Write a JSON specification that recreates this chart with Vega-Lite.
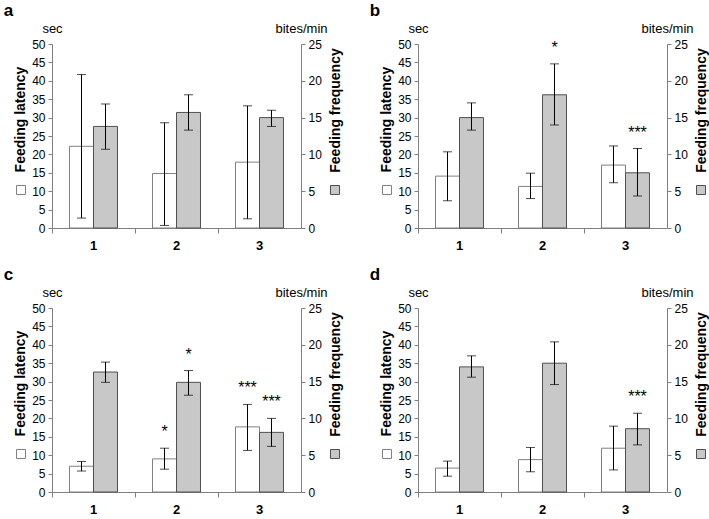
{
  "$schema": "https://vega.github.io/schema/vega-lite/v6.json",
  "padding": {"left": 3, "top": 2, "right": 2, "bottom": 5},
  "background": "white",
  "config": {
    "font": "Liberation Sans",
    "view": {"stroke": null},
    "axis": {"labelFont": "Liberation Sans", "titleFont": "Liberation Sans", "domainColor": "#808080", "tickColor": "#808080", "labelColor": "black", "titleColor": "black", "grid": false, "labelFontSize": 12, "tickSize": 4, "labelPadding": 3},
    "axisLeft": {"tickCount": 10, "titleFontSize": 14, "titleFontWeight": "bold", "titlePadding": 4, "titleY": 75},
    "axisRight": {"tickCount": 5, "titleFontSize": 14, "titleFontWeight": "bold", "titlePadding": 7, "titleAngle": 270, "titleBaseline": "top", "titleY": 66},
    "axisBottom": {"bandPosition": 0, "labelAngle": 0, "labelFontWeight": "bold", "labelFontSize": 13, "labelPadding": 6, "tickSize": 5, "titleFontWeight": "normal", "titleFontSize": 13, "titleX": 0, "titleY": -196, "titleAlign": "center", "titleBaseline": "alphabetic"},
    "axisTop": {"labels": false, "ticks": false, "domain": false, "titleFontWeight": "normal", "titleFontSize": 13, "titleX": 249, "titleY": -12, "titleAlign": "center", "titleBaseline": "alphabetic"},
    "legend": {"title": null, "symbolType": "square", "symbolSize": 81, "symbolStrokeWidth": 1, "labelFontSize": 1, "labelOffset": 0, "padding": 0, "offset": 0, "orient": "none"},
    "title": {"font": "Liberation Sans", "fontSize": 17, "fontWeight": "bold", "anchor": "start", "frame": "bounds", "offset": 2, "dx": -10}
  },
  "spacing": {"row": 14, "column": 26},
  "resolve": {"scale": {"fill": "independent"}, "legend": {"fill": "independent"}},
  "datasets": {
    "d": [
      {"panel": "a", "cat": "1", "series": "lat", "mean": 22.2, "lo": 2.7, "hi": 41.7, "star": null},
      {"panel": "a", "cat": "2", "series": "lat", "mean": 14.8, "lo": 0.7, "hi": 28.6, "star": null},
      {"panel": "a", "cat": "3", "series": "lat", "mean": 17.9, "lo": 2.5, "hi": 33.2, "star": null},
      {"panel": "a", "cat": "1", "series": "freq", "mean": 13.8, "lo": 10.7, "hi": 16.85, "star": null},
      {"panel": "a", "cat": "2", "series": "freq", "mean": 15.7, "lo": 13.3, "hi": 18.1, "star": null},
      {"panel": "a", "cat": "3", "series": "freq", "mean": 15.0, "lo": 13.8, "hi": 16.0, "star": null},
      {"panel": "b", "cat": "1", "series": "lat", "mean": 14.1, "lo": 7.4, "hi": 20.7, "star": null},
      {"panel": "b", "cat": "2", "series": "lat", "mean": 11.3, "lo": 8.0, "hi": 14.9, "star": null},
      {"panel": "b", "cat": "3", "series": "lat", "mean": 17.1, "lo": 12.3, "hi": 22.3, "star": null},
      {"panel": "b", "cat": "1", "series": "freq", "mean": 15.0, "lo": 13.3, "hi": 17.0, "star": null},
      {"panel": "b", "cat": "2", "series": "freq", "mean": 18.1, "lo": 14.0, "hi": 22.3, "star": "*"},
      {"panel": "b", "cat": "3", "series": "freq", "mean": 7.5, "lo": 4.35, "hi": 10.8, "star": "***"},
      {"panel": "c", "cat": "1", "series": "lat", "mean": 7.0, "lo": 5.7, "hi": 8.3, "star": null},
      {"panel": "c", "cat": "2", "series": "lat", "mean": 9.0, "lo": 6.2, "hi": 11.9, "star": "*"},
      {"panel": "c", "cat": "3", "series": "lat", "mean": 17.7, "lo": 11.3, "hi": 23.8, "star": "***"},
      {"panel": "c", "cat": "1", "series": "freq", "mean": 16.3, "lo": 14.9, "hi": 17.65, "star": null},
      {"panel": "c", "cat": "2", "series": "freq", "mean": 14.9, "lo": 13.15, "hi": 16.5, "star": "*"},
      {"panel": "c", "cat": "3", "series": "freq", "mean": 8.1, "lo": 6.2, "hi": 10.0, "star": "***"},
      {"panel": "d", "cat": "1", "series": "lat", "mean": 6.5, "lo": 4.3, "hi": 8.4, "star": null},
      {"panel": "d", "cat": "2", "series": "lat", "mean": 8.8, "lo": 5.5, "hi": 12.1, "star": null},
      {"panel": "d", "cat": "3", "series": "lat", "mean": 11.9, "lo": 6.0, "hi": 17.9, "star": null},
      {"panel": "d", "cat": "1", "series": "freq", "mean": 17.0, "lo": 15.6, "hi": 18.5, "star": null},
      {"panel": "d", "cat": "2", "series": "freq", "mean": 17.5, "lo": 14.6, "hi": 20.4, "star": null},
      {"panel": "d", "cat": "3", "series": "freq", "mean": 8.6, "lo": 6.4, "hi": 10.7, "star": "***"}
    ]
  },
  "columns": 2,
  "concat": [
    {
      "title": "a", "width": 249, "height": 184, "data": {"name": "d"},
      "transform": [{"filter": "datum.panel === 'a'"}],
      "layer": [
        {
          "transform": [{"filter": "datum.series === 'lat'"}],
          "encoding": {
            "x": {"field": "cat", "type": "nominal", "title": "sec", "scale": {"paddingInner": 0, "paddingOuter": 0}, "axis": {"orient": "bottom"}},
            "xOffset": {"field": "series", "type": "nominal", "scale": {"domain": ["lat", "freq"], "paddingInner": 0, "paddingOuter": 0.73}}
          },
          "layer": [
            {"mark": {"type": "bar", "stroke": "#808080", "strokeWidth": 1},
             "encoding": {"y": {"field": "mean", "type": "quantitative", "title": "Feeding latency", "scale": {"domain": [0, 50], "nice": false}, "axis": {"orient": "left"}},
               "fill": {"field": "series", "type": "nominal", "scale": {"domain": ["lat"], "range": ["white"]}, "legend": {"legendX": -36, "legendY": 141, "symbolStrokeColor": "#808080", "labelExpr": "''"}}}},
            {"mark": {"type": "rule", "color": "black", "strokeWidth": 1},
             "encoding": {"y": {"field": "lo", "type": "quantitative", "title": "Feeding latency", "axis": {"orient": "left"}}, "y2": {"field": "hi"}}},
            {"mark": {"type": "tick", "color": "black", "thickness": 1, "size": 9},
             "encoding": {"y": {"field": "lo", "type": "quantitative", "title": "Feeding latency", "axis": {"orient": "left"}}}},
            {"mark": {"type": "tick", "color": "black", "thickness": 1, "size": 9},
             "encoding": {"y": {"field": "hi", "type": "quantitative", "title": "Feeding latency", "axis": {"orient": "left"}}}},
            {"transform": [{"filter": "datum.star"}],
             "mark": {"type": "text", "dy": -11, "fontSize": 16, "color": "black", "baseline": "alphabetic"},
             "encoding": {"y": {"field": "hi", "type": "quantitative", "title": "Feeding latency", "axis": {"orient": "left"}}, "text": {"field": "star"}}}
          ]
        },
        {
          "transform": [{"filter": "datum.series === 'freq'"}],
          "encoding": {
            "x": {"field": "cat", "type": "nominal", "title": "bites/min", "scale": {"paddingInner": 0, "paddingOuter": 0}, "axis": {"orient": "top"}},
            "xOffset": {"field": "series", "type": "nominal", "scale": {"domain": ["lat", "freq"], "paddingInner": 0, "paddingOuter": 0.73}}
          },
          "layer": [
            {"mark": {"type": "bar", "stroke": "#505050", "strokeWidth": 1},
             "encoding": {"y": {"field": "mean", "type": "quantitative", "title": "Feeding frequency", "scale": {"domain": [0, 25], "nice": false}, "axis": {"orient": "right"}},
               "fill": {"field": "series", "type": "nominal", "scale": {"domain": ["freq"], "range": ["#c8c8c8"]}, "legend": {"legendX": 278, "legendY": 141, "symbolStrokeColor": "#505050", "labelExpr": "''"}}}},
            {"mark": {"type": "rule", "color": "black", "strokeWidth": 1},
             "encoding": {"y": {"field": "lo", "type": "quantitative", "title": "Feeding frequency", "axis": {"orient": "right"}}, "y2": {"field": "hi"}}},
            {"mark": {"type": "tick", "color": "black", "thickness": 1, "size": 9},
             "encoding": {"y": {"field": "lo", "type": "quantitative", "title": "Feeding frequency", "axis": {"orient": "right"}}}},
            {"mark": {"type": "tick", "color": "black", "thickness": 1, "size": 9},
             "encoding": {"y": {"field": "hi", "type": "quantitative", "title": "Feeding frequency", "axis": {"orient": "right"}}}},
            {"transform": [{"filter": "datum.star"}],
             "mark": {"type": "text", "dy": -11, "fontSize": 16, "color": "black", "baseline": "alphabetic"},
             "encoding": {"y": {"field": "hi", "type": "quantitative", "title": "Feeding frequency", "axis": {"orient": "right"}}, "text": {"field": "star"}}}
          ]
        }
      ],
      "resolve": {"scale": {"y": "independent", "fill": "independent"}, "axis": {"x": "independent"}, "legend": {"fill": "independent"}}
    },
    {
      "title": "b", "width": 249, "height": 184, "data": {"name": "d"},
      "transform": [{"filter": "datum.panel === 'b'"}],
      "layer": [
        {
          "transform": [{"filter": "datum.series === 'lat'"}],
          "encoding": {
            "x": {"field": "cat", "type": "nominal", "title": "sec", "scale": {"paddingInner": 0, "paddingOuter": 0}, "axis": {"orient": "bottom"}},
            "xOffset": {"field": "series", "type": "nominal", "scale": {"domain": ["lat", "freq"], "paddingInner": 0, "paddingOuter": 0.73}}
          },
          "layer": [
            {"mark": {"type": "bar", "stroke": "#808080", "strokeWidth": 1},
             "encoding": {"y": {"field": "mean", "type": "quantitative", "title": "Feeding latency", "scale": {"domain": [0, 50], "nice": false}, "axis": {"orient": "left"}},
               "fill": {"field": "series", "type": "nominal", "scale": {"domain": ["lat"], "range": ["white"]}, "legend": {"legendX": -36, "legendY": 141, "symbolStrokeColor": "#808080", "labelExpr": "''"}}}},
            {"mark": {"type": "rule", "color": "black", "strokeWidth": 1},
             "encoding": {"y": {"field": "lo", "type": "quantitative", "title": "Feeding latency", "axis": {"orient": "left"}}, "y2": {"field": "hi"}}},
            {"mark": {"type": "tick", "color": "black", "thickness": 1, "size": 9},
             "encoding": {"y": {"field": "lo", "type": "quantitative", "title": "Feeding latency", "axis": {"orient": "left"}}}},
            {"mark": {"type": "tick", "color": "black", "thickness": 1, "size": 9},
             "encoding": {"y": {"field": "hi", "type": "quantitative", "title": "Feeding latency", "axis": {"orient": "left"}}}},
            {"transform": [{"filter": "datum.star"}],
             "mark": {"type": "text", "dy": -11, "fontSize": 16, "color": "black", "baseline": "alphabetic"},
             "encoding": {"y": {"field": "hi", "type": "quantitative", "title": "Feeding latency", "axis": {"orient": "left"}}, "text": {"field": "star"}}}
          ]
        },
        {
          "transform": [{"filter": "datum.series === 'freq'"}],
          "encoding": {
            "x": {"field": "cat", "type": "nominal", "title": "bites/min", "scale": {"paddingInner": 0, "paddingOuter": 0}, "axis": {"orient": "top"}},
            "xOffset": {"field": "series", "type": "nominal", "scale": {"domain": ["lat", "freq"], "paddingInner": 0, "paddingOuter": 0.73}}
          },
          "layer": [
            {"mark": {"type": "bar", "stroke": "#505050", "strokeWidth": 1},
             "encoding": {"y": {"field": "mean", "type": "quantitative", "title": "Feeding frequency", "scale": {"domain": [0, 25], "nice": false}, "axis": {"orient": "right"}},
               "fill": {"field": "series", "type": "nominal", "scale": {"domain": ["freq"], "range": ["#c8c8c8"]}, "legend": {"legendX": 278, "legendY": 141, "symbolStrokeColor": "#505050", "labelExpr": "''"}}}},
            {"mark": {"type": "rule", "color": "black", "strokeWidth": 1},
             "encoding": {"y": {"field": "lo", "type": "quantitative", "title": "Feeding frequency", "axis": {"orient": "right"}}, "y2": {"field": "hi"}}},
            {"mark": {"type": "tick", "color": "black", "thickness": 1, "size": 9},
             "encoding": {"y": {"field": "lo", "type": "quantitative", "title": "Feeding frequency", "axis": {"orient": "right"}}}},
            {"mark": {"type": "tick", "color": "black", "thickness": 1, "size": 9},
             "encoding": {"y": {"field": "hi", "type": "quantitative", "title": "Feeding frequency", "axis": {"orient": "right"}}}},
            {"transform": [{"filter": "datum.star"}],
             "mark": {"type": "text", "dy": -11, "fontSize": 16, "color": "black", "baseline": "alphabetic"},
             "encoding": {"y": {"field": "hi", "type": "quantitative", "title": "Feeding frequency", "axis": {"orient": "right"}}, "text": {"field": "star"}}}
          ]
        }
      ],
      "resolve": {"scale": {"y": "independent", "fill": "independent"}, "axis": {"x": "independent"}, "legend": {"fill": "independent"}}
    },
    {
      "title": "c", "width": 249, "height": 184, "data": {"name": "d"},
      "transform": [{"filter": "datum.panel === 'c'"}],
      "layer": [
        {
          "transform": [{"filter": "datum.series === 'lat'"}],
          "encoding": {
            "x": {"field": "cat", "type": "nominal", "title": "sec", "scale": {"paddingInner": 0, "paddingOuter": 0}, "axis": {"orient": "bottom"}},
            "xOffset": {"field": "series", "type": "nominal", "scale": {"domain": ["lat", "freq"], "paddingInner": 0, "paddingOuter": 0.73}}
          },
          "layer": [
            {"mark": {"type": "bar", "stroke": "#808080", "strokeWidth": 1},
             "encoding": {"y": {"field": "mean", "type": "quantitative", "title": "Feeding latency", "scale": {"domain": [0, 50], "nice": false}, "axis": {"orient": "left"}},
               "fill": {"field": "series", "type": "nominal", "scale": {"domain": ["lat"], "range": ["white"]}, "legend": {"legendX": -36, "legendY": 141, "symbolStrokeColor": "#808080", "labelExpr": "''"}}}},
            {"mark": {"type": "rule", "color": "black", "strokeWidth": 1},
             "encoding": {"y": {"field": "lo", "type": "quantitative", "title": "Feeding latency", "axis": {"orient": "left"}}, "y2": {"field": "hi"}}},
            {"mark": {"type": "tick", "color": "black", "thickness": 1, "size": 9},
             "encoding": {"y": {"field": "lo", "type": "quantitative", "title": "Feeding latency", "axis": {"orient": "left"}}}},
            {"mark": {"type": "tick", "color": "black", "thickness": 1, "size": 9},
             "encoding": {"y": {"field": "hi", "type": "quantitative", "title": "Feeding latency", "axis": {"orient": "left"}}}},
            {"transform": [{"filter": "datum.star"}],
             "mark": {"type": "text", "dy": -11, "fontSize": 16, "color": "black", "baseline": "alphabetic"},
             "encoding": {"y": {"field": "hi", "type": "quantitative", "title": "Feeding latency", "axis": {"orient": "left"}}, "text": {"field": "star"}}}
          ]
        },
        {
          "transform": [{"filter": "datum.series === 'freq'"}],
          "encoding": {
            "x": {"field": "cat", "type": "nominal", "title": "bites/min", "scale": {"paddingInner": 0, "paddingOuter": 0}, "axis": {"orient": "top"}},
            "xOffset": {"field": "series", "type": "nominal", "scale": {"domain": ["lat", "freq"], "paddingInner": 0, "paddingOuter": 0.73}}
          },
          "layer": [
            {"mark": {"type": "bar", "stroke": "#505050", "strokeWidth": 1},
             "encoding": {"y": {"field": "mean", "type": "quantitative", "title": "Feeding frequency", "scale": {"domain": [0, 25], "nice": false}, "axis": {"orient": "right"}},
               "fill": {"field": "series", "type": "nominal", "scale": {"domain": ["freq"], "range": ["#c8c8c8"]}, "legend": {"legendX": 278, "legendY": 141, "symbolStrokeColor": "#505050", "labelExpr": "''"}}}},
            {"mark": {"type": "rule", "color": "black", "strokeWidth": 1},
             "encoding": {"y": {"field": "lo", "type": "quantitative", "title": "Feeding frequency", "axis": {"orient": "right"}}, "y2": {"field": "hi"}}},
            {"mark": {"type": "tick", "color": "black", "thickness": 1, "size": 9},
             "encoding": {"y": {"field": "lo", "type": "quantitative", "title": "Feeding frequency", "axis": {"orient": "right"}}}},
            {"mark": {"type": "tick", "color": "black", "thickness": 1, "size": 9},
             "encoding": {"y": {"field": "hi", "type": "quantitative", "title": "Feeding frequency", "axis": {"orient": "right"}}}},
            {"transform": [{"filter": "datum.star"}],
             "mark": {"type": "text", "dy": -11, "fontSize": 16, "color": "black", "baseline": "alphabetic"},
             "encoding": {"y": {"field": "hi", "type": "quantitative", "title": "Feeding frequency", "axis": {"orient": "right"}}, "text": {"field": "star"}}}
          ]
        }
      ],
      "resolve": {"scale": {"y": "independent", "fill": "independent"}, "axis": {"x": "independent"}, "legend": {"fill": "independent"}}
    },
    {
      "title": "d", "width": 249, "height": 184, "data": {"name": "d"},
      "transform": [{"filter": "datum.panel === 'd'"}],
      "layer": [
        {
          "transform": [{"filter": "datum.series === 'lat'"}],
          "encoding": {
            "x": {"field": "cat", "type": "nominal", "title": "sec", "scale": {"paddingInner": 0, "paddingOuter": 0}, "axis": {"orient": "bottom"}},
            "xOffset": {"field": "series", "type": "nominal", "scale": {"domain": ["lat", "freq"], "paddingInner": 0, "paddingOuter": 0.73}}
          },
          "layer": [
            {"mark": {"type": "bar", "stroke": "#808080", "strokeWidth": 1},
             "encoding": {"y": {"field": "mean", "type": "quantitative", "title": "Feeding latency", "scale": {"domain": [0, 50], "nice": false}, "axis": {"orient": "left"}},
               "fill": {"field": "series", "type": "nominal", "scale": {"domain": ["lat"], "range": ["white"]}, "legend": {"legendX": -36, "legendY": 141, "symbolStrokeColor": "#808080", "labelExpr": "''"}}}},
            {"mark": {"type": "rule", "color": "black", "strokeWidth": 1},
             "encoding": {"y": {"field": "lo", "type": "quantitative", "title": "Feeding latency", "axis": {"orient": "left"}}, "y2": {"field": "hi"}}},
            {"mark": {"type": "tick", "color": "black", "thickness": 1, "size": 9},
             "encoding": {"y": {"field": "lo", "type": "quantitative", "title": "Feeding latency", "axis": {"orient": "left"}}}},
            {"mark": {"type": "tick", "color": "black", "thickness": 1, "size": 9},
             "encoding": {"y": {"field": "hi", "type": "quantitative", "title": "Feeding latency", "axis": {"orient": "left"}}}},
            {"transform": [{"filter": "datum.star"}],
             "mark": {"type": "text", "dy": -11, "fontSize": 16, "color": "black", "baseline": "alphabetic"},
             "encoding": {"y": {"field": "hi", "type": "quantitative", "title": "Feeding latency", "axis": {"orient": "left"}}, "text": {"field": "star"}}}
          ]
        },
        {
          "transform": [{"filter": "datum.series === 'freq'"}],
          "encoding": {
            "x": {"field": "cat", "type": "nominal", "title": "bites/min", "scale": {"paddingInner": 0, "paddingOuter": 0}, "axis": {"orient": "top"}},
            "xOffset": {"field": "series", "type": "nominal", "scale": {"domain": ["lat", "freq"], "paddingInner": 0, "paddingOuter": 0.73}}
          },
          "layer": [
            {"mark": {"type": "bar", "stroke": "#505050", "strokeWidth": 1},
             "encoding": {"y": {"field": "mean", "type": "quantitative", "title": "Feeding frequency", "scale": {"domain": [0, 25], "nice": false}, "axis": {"orient": "right"}},
               "fill": {"field": "series", "type": "nominal", "scale": {"domain": ["freq"], "range": ["#c8c8c8"]}, "legend": {"legendX": 278, "legendY": 141, "symbolStrokeColor": "#505050", "labelExpr": "''"}}}},
            {"mark": {"type": "rule", "color": "black", "strokeWidth": 1},
             "encoding": {"y": {"field": "lo", "type": "quantitative", "title": "Feeding frequency", "axis": {"orient": "right"}}, "y2": {"field": "hi"}}},
            {"mark": {"type": "tick", "color": "black", "thickness": 1, "size": 9},
             "encoding": {"y": {"field": "lo", "type": "quantitative", "title": "Feeding frequency", "axis": {"orient": "right"}}}},
            {"mark": {"type": "tick", "color": "black", "thickness": 1, "size": 9},
             "encoding": {"y": {"field": "hi", "type": "quantitative", "title": "Feeding frequency", "axis": {"orient": "right"}}}},
            {"transform": [{"filter": "datum.star"}],
             "mark": {"type": "text", "dy": -11, "fontSize": 16, "color": "black", "baseline": "alphabetic"},
             "encoding": {"y": {"field": "hi", "type": "quantitative", "title": "Feeding frequency", "axis": {"orient": "right"}}, "text": {"field": "star"}}}
          ]
        }
      ],
      "resolve": {"scale": {"y": "independent", "fill": "independent"}, "axis": {"x": "independent"}, "legend": {"fill": "independent"}}
    }
  ]
}
